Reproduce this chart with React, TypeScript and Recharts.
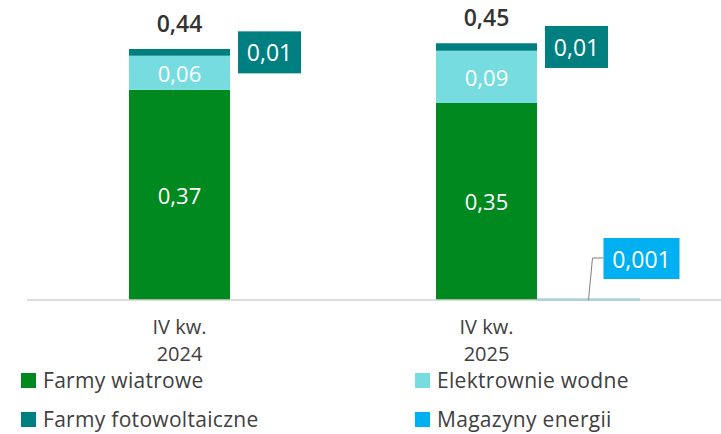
import { BarChart, Bar, XAxis, YAxis, LabelList } from 'recharts'

const categories = ['IV kw. 2024', 'IV kw. 2025']
const windFarms = [0.37, 0.347]
const hydroPlants = [0.06, 0.092]
const pvFarms = [0.012, 0.013]
const storage = [0, 0.001]
const totals = [0.44, 0.45]

const seriesNames = ['Farmy wiatrowe', 'Elektrownie wodne', 'Farmy fotowoltaiczne', 'Magazyny energii']
const colors = { wind: '#00891f', hydro: '#76dce0', pv: '#007f80', storage: '#00b0f0' }

const data = categories.map((c, i) => ({
  name: c,
  wind: windFarms[i],
  hydro: hydroPlants[i],
  pv: pvFarms[i],
  storage: storage[i],
  total: totals[i],
}))

const FONT = '"Open Sans", sans-serif'
const fmt = (v: number, d = 2) => v.toFixed(d).replace('.', ',')

const CategoryTick = ({ x, y, payload }: any) => {
  const s = String(payload.value)
  const cut = s.lastIndexOf(' ')
  // labels sit under the first (stacked) bar, not the group centre
  const cx = x - 51
  return (
    <g>
      <text x={cx} y={y + 32} textAnchor="middle" fill="#404040" fontSize={20} fontFamily={FONT}>
        {s.slice(0, cut)}
      </text>
      <text x={cx} y={y + 59} textAnchor="middle" fill="#404040" fontSize={20} fontFamily={FONT}>
        {s.slice(cut + 1)}
      </text>
    </g>
  )
}

const InsideLabel = (props: any) => {
  const { x, y, width, height, value } = props
  return (
    <text x={x + width / 2} y={y + height / 2} textAnchor="middle" dominantBaseline="central"
      fill="#fff" fontSize={22} fontWeight={500} fontFamily={FONT}>
      {fmt(Number(value))}
    </text>
  )
}

const TotalLabel = (props: any) => {
  const { x, y, width, value } = props
  return (
    <text x={x + width / 2} y={y - 26} textAnchor="middle" dominantBaseline="central"
      fill="#333" fontSize={23} fontWeight={600} fontFamily={FONT}>
      {fmt(Number(value))}
    </text>
  )
}

const PvBoxLabel = (props: any) => {
  const { x, y, width, height, value } = props
  const bx = x + width + 8
  const cy = y + height / 2
  return (
    <g>
      <rect x={bx} y={cy - 21} width={63} height={42} fill={colors.pv} />
      <text x={bx + 31.5} y={cy} textAnchor="middle" dominantBaseline="central"
        fill="#fff" fontSize={23} fontWeight={500} fontFamily={FONT}>
        {fmt(Number(value))}
      </text>
    </g>
  )
}

const StorageLabel = (props: any) => {
  const { x, y, width, height, value } = props
  if (!value) return null
  const cx = x + width / 2
  const bottom = y + height
  return (
    <g>
      <polyline points={`${cx},${bottom} ${cx + 4},${bottom - 42} ${cx + 15},${bottom - 42}`}
        fill="none" stroke="#7f7f7f" strokeWidth={1} />
      <rect x={cx + 15} y={bottom - 62} width={76} height={41} fill={colors.storage} />
      <text x={cx + 53} y={bottom - 41.5} textAnchor="middle" dominantBaseline="central"
        fill="#fff" fontSize={23} fontWeight={500} fontFamily={FONT}>
        {fmt(Number(value), 3)}
      </text>
    </g>
  )
}

const legendItems = [
  { label: seriesNames[0], color: colors.wind, left: 21, top: 373 },
  { label: seriesNames[1], color: colors.hydro, left: 415, top: 373 },
  { label: seriesNames[2], color: colors.pv, left: 21, top: 412 },
  { label: seriesNames[3], color: colors.storage, left: 415, top: 412 },
]

export default function App() {
  return (
    <div style={{ position: 'absolute', left: 0, top: 0, width: 721, height: 434, background: '#fff' }}>
      <BarChart width={721} height={434} data={data} barSize={101} barGap={1}
        margin={{ top: 16, right: 0, left: 27, bottom: 0 }}>
        <XAxis dataKey="name" height={134} padding={{ left: 50, right: 30 }}
          tickLine={false} tickSize={0} interval={0}
          axisLine={{ stroke: '#d0d0d0', strokeWidth: 1.5 }} tick={<CategoryTick />} />
        <YAxis hide domain={[0, 0.5]} />
        <Bar dataKey="wind" stackId="a" fill={colors.wind} isAnimationActive={false}>
          <LabelList dataKey="wind" content={<InsideLabel />} />
        </Bar>
        <Bar dataKey="hydro" stackId="a" fill={colors.hydro} isAnimationActive={false}>
          <LabelList dataKey="hydro" content={<InsideLabel />} />
        </Bar>
        <Bar dataKey="pv" stackId="a" fill={colors.pv} isAnimationActive={false}>
          <LabelList dataKey="pv" content={<PvBoxLabel />} />
          <LabelList dataKey="total" content={<TotalLabel />} />
        </Bar>
        <Bar dataKey="storage" stackId="b" fill={colors.storage} stroke="#6fc3e6" strokeWidth={2}
          isAnimationActive={false}>
          <LabelList dataKey="storage" content={<StorageLabel />} />
        </Bar>
      </BarChart>
      {legendItems.map((it) => (
        <div key={it.label} style={{ position: 'absolute', left: it.left, top: it.top, display: 'flex',
          alignItems: 'center', fontFamily: FONT, fontSize: 21, letterSpacing: 0.3, color: '#404040',
          lineHeight: '15px' }}>
          <span style={{ width: 15, height: 15, background: it.color, marginRight: 7, display: 'inline-block' }} />
          <span>{it.label}</span>
        </div>
      ))}
    </div>
  )
}
